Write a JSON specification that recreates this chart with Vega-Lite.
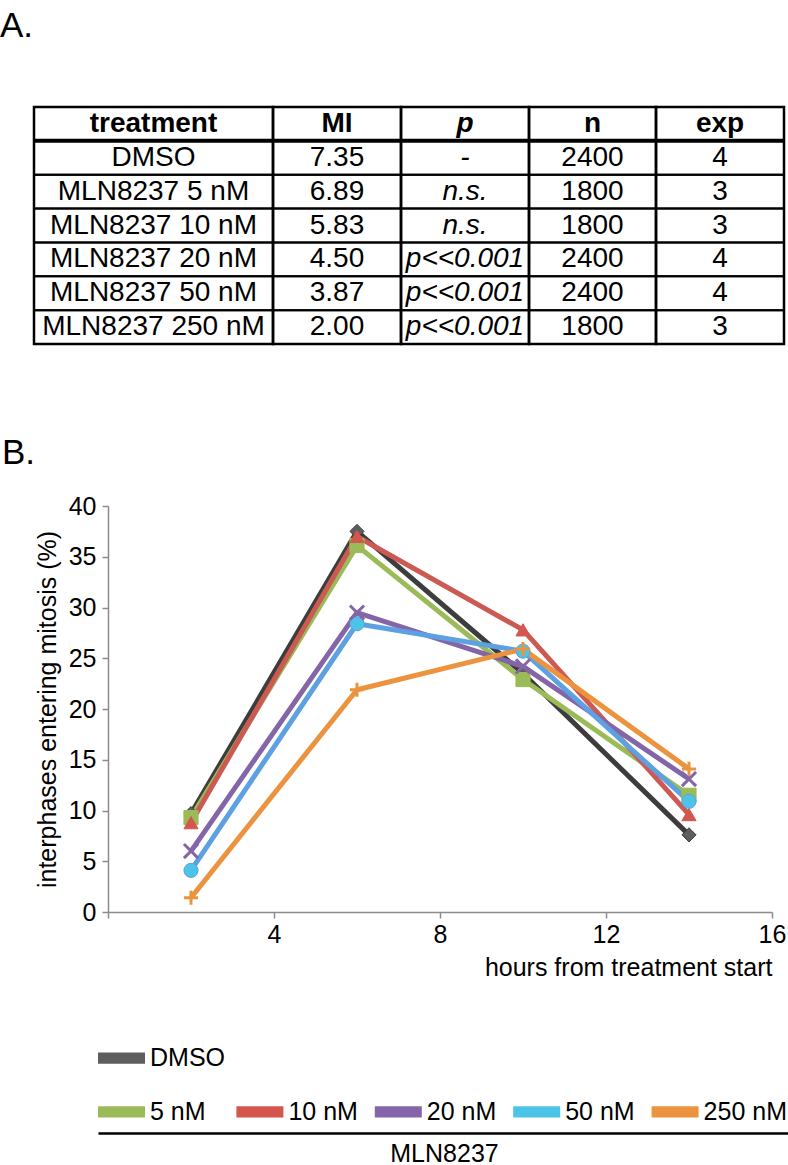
{
  "$schema": "https://vega.github.io/schema/vega-lite/v6.json",
  "padding": {"top": 8, "left": 0, "right": 0, "bottom": 0},
  "background": "white",
  "config": {
    "font": "Liberation Sans",
    "view": {"stroke": null},
    "axis": {"labelColor": "black", "titleColor": "black", "titleFontWeight": "normal", "grid": false},
    "title": {"fontWeight": "normal", "color": "black"}
  },
  "datasets": {
    "table": [
      {"treatment": "DMSO", "MI": "7.35", "p": "-", "n": "2400", "exp": "4"},
      {"treatment": "MLN8237 5 nM", "MI": "6.89", "p": "n.s.", "n": "1800", "exp": "3"},
      {"treatment": "MLN8237 10 nM", "MI": "5.83", "p": "n.s.", "n": "1800", "exp": "3"},
      {"treatment": "MLN8237 20 nM", "MI": "4.50", "p": "p<<0.001", "n": "2400", "exp": "4"},
      {"treatment": "MLN8237 50 nM", "MI": "3.87", "p": "p<<0.001", "n": "2400", "exp": "4"},
      {"treatment": "MLN8237 250 nM", "MI": "2.00", "p": "p<<0.001", "n": "1800", "exp": "3"}
    ],
    "header": [{"treatment": "treatment", "MI": "MI", "p": "p", "n": "n", "exp": "exp"}],
    "mitosis": [
      {"series": "DMSO", "hours": 2, "pct": 9.7},
      {"series": "DMSO", "hours": 6, "pct": 37.5},
      {"series": "DMSO", "hours": 10, "pct": 23.5},
      {"series": "DMSO", "hours": 14, "pct": 7.6},
      {"series": "5 nM", "hours": 2, "pct": 9.3},
      {"series": "5 nM", "hours": 6, "pct": 36.1},
      {"series": "5 nM", "hours": 10, "pct": 22.9},
      {"series": "5 nM", "hours": 14, "pct": 11.5},
      {"series": "10 nM", "hours": 2, "pct": 8.8},
      {"series": "10 nM", "hours": 6, "pct": 37.0},
      {"series": "10 nM", "hours": 10, "pct": 27.8},
      {"series": "10 nM", "hours": 14, "pct": 9.6},
      {"series": "20 nM", "hours": 2, "pct": 6.0},
      {"series": "20 nM", "hours": 6, "pct": 29.5},
      {"series": "20 nM", "hours": 10, "pct": 24.2},
      {"series": "20 nM", "hours": 14, "pct": 13.1},
      {"series": "50 nM", "hours": 2, "pct": 4.1},
      {"series": "50 nM", "hours": 6, "pct": 28.4},
      {"series": "50 nM", "hours": 10, "pct": 25.7},
      {"series": "50 nM", "hours": 14, "pct": 10.9},
      {"series": "250 nM", "hours": 2, "pct": 1.4},
      {"series": "250 nM", "hours": 6, "pct": 21.9},
      {"series": "250 nM", "hours": 10, "pct": 25.9},
      {"series": "250 nM", "hours": 14, "pct": 14.1}
    ],
    "legendItems": [
      {"series": "DMSO"},
      {"series": "5 nM"},
      {"series": "10 nM"},
      {"series": "20 nM"},
      {"series": "50 nM"},
      {"series": "250 nM"}
    ]
  },
  "spacing": 89,
  "vconcat": [
    {
      "title": {"text": "A.", "anchor": "start", "frame": "bounds", "fontSize": 35, "fontWeight": "normal", "dx": -30.75, "offset": 62},
      "spacing": 0,
      "bounds": "flush",
      "hconcat": [
        {
          "width": 239, "height": 237,
          "view": {"stroke": "black", "strokeWidth": 2.5},
          "layer": [
            {"data": {"name": "table"}, "mark": {"type": "rect", "filled": false, "stroke": "black", "strokeWidth": 2},
             "encoding": {
               "y": {"field": "treatment", "type": "nominal", "scale": {"type": "band", "domain": ["header", "DMSO", "MLN8237 5 nM", "MLN8237 10 nM", "MLN8237 20 nM", "MLN8237 50 nM", "MLN8237 250 nM"], "paddingInner": 0, "paddingOuter": 0}, "axis": null},
               "x": {"datum": 0, "type": "quantitative", "scale": {"domain": [0, 1]}, "axis": null},
               "x2": {"datum": 1}}},
            {"data": {"name": "header"}, "mark": {"type": "rule", "stroke": "black", "strokeWidth": 4},
             "encoding": {"y": {"datum": "DMSO", "type": "nominal", "bandPosition": 0}, "x": {"datum": 0, "type": "quantitative"}, "x2": {"datum": 1}}},
            {"data": {"name": "header"}, "mark": {"type": "text", "fontSize": 28, "fontWeight": "bold", "baseline": "middle"},
             "encoding": {"y": {"datum": "header", "type": "nominal"}, "x": {"datum": 0.5, "type": "quantitative"}, "text": {"field": "treatment"}}},
            {"data": {"name": "table"}, "mark": {"type": "text", "fontSize": 28, "baseline": "middle"},
             "encoding": {"y": {"field": "treatment", "type": "nominal"}, "x": {"datum": 0.5, "type": "quantitative"}, "text": {"field": "treatment"}}}
          ]
        },
        {
          "width": 128, "height": 237,
          "view": {"stroke": "black", "strokeWidth": 2.5},
          "layer": [
            {"data": {"name": "table"}, "mark": {"type": "rect", "filled": false, "stroke": "black", "strokeWidth": 2},
             "encoding": {
               "y": {"field": "treatment", "type": "nominal", "scale": {"type": "band", "domain": ["header", "DMSO", "MLN8237 5 nM", "MLN8237 10 nM", "MLN8237 20 nM", "MLN8237 50 nM", "MLN8237 250 nM"], "paddingInner": 0, "paddingOuter": 0}, "axis": null},
               "x": {"datum": 0, "type": "quantitative", "scale": {"domain": [0, 1]}, "axis": null},
               "x2": {"datum": 1}}},
            {"data": {"name": "header"}, "mark": {"type": "rule", "stroke": "black", "strokeWidth": 4},
             "encoding": {"y": {"datum": "DMSO", "type": "nominal", "bandPosition": 0}, "x": {"datum": 0, "type": "quantitative"}, "x2": {"datum": 1}}},
            {"data": {"name": "header"}, "mark": {"type": "text", "fontSize": 28, "fontWeight": "bold", "baseline": "middle"},
             "encoding": {"y": {"datum": "header", "type": "nominal"}, "x": {"datum": 0.5, "type": "quantitative"}, "text": {"field": "MI"}}},
            {"data": {"name": "table"}, "mark": {"type": "text", "fontSize": 28, "baseline": "middle"},
             "encoding": {"y": {"field": "treatment", "type": "nominal"}, "x": {"datum": 0.5, "type": "quantitative"}, "text": {"field": "MI"}}}
          ]
        },
        {
          "width": 128, "height": 237,
          "view": {"stroke": "black", "strokeWidth": 2.5},
          "layer": [
            {"data": {"name": "table"}, "mark": {"type": "rect", "filled": false, "stroke": "black", "strokeWidth": 2},
             "encoding": {
               "y": {"field": "treatment", "type": "nominal", "scale": {"type": "band", "domain": ["header", "DMSO", "MLN8237 5 nM", "MLN8237 10 nM", "MLN8237 20 nM", "MLN8237 50 nM", "MLN8237 250 nM"], "paddingInner": 0, "paddingOuter": 0}, "axis": null},
               "x": {"datum": 0, "type": "quantitative", "scale": {"domain": [0, 1]}, "axis": null},
               "x2": {"datum": 1}}},
            {"data": {"name": "header"}, "mark": {"type": "rule", "stroke": "black", "strokeWidth": 4},
             "encoding": {"y": {"datum": "DMSO", "type": "nominal", "bandPosition": 0}, "x": {"datum": 0, "type": "quantitative"}, "x2": {"datum": 1}}},
            {"data": {"name": "header"}, "mark": {"type": "text", "fontSize": 28, "fontWeight": "bold", "fontStyle": "italic", "baseline": "middle"},
             "encoding": {"y": {"datum": "header", "type": "nominal"}, "x": {"datum": 0.5, "type": "quantitative"}, "text": {"field": "p"}}},
            {"data": {"name": "table"}, "mark": {"type": "text", "fontSize": 28, "fontStyle": "italic", "baseline": "middle"},
             "encoding": {"y": {"field": "treatment", "type": "nominal"}, "x": {"datum": 0.5, "type": "quantitative"}, "text": {"field": "p"}}}
          ]
        },
        {
          "width": 127, "height": 237,
          "view": {"stroke": "black", "strokeWidth": 2.5},
          "layer": [
            {"data": {"name": "table"}, "mark": {"type": "rect", "filled": false, "stroke": "black", "strokeWidth": 2},
             "encoding": {
               "y": {"field": "treatment", "type": "nominal", "scale": {"type": "band", "domain": ["header", "DMSO", "MLN8237 5 nM", "MLN8237 10 nM", "MLN8237 20 nM", "MLN8237 50 nM", "MLN8237 250 nM"], "paddingInner": 0, "paddingOuter": 0}, "axis": null},
               "x": {"datum": 0, "type": "quantitative", "scale": {"domain": [0, 1]}, "axis": null},
               "x2": {"datum": 1}}},
            {"data": {"name": "header"}, "mark": {"type": "rule", "stroke": "black", "strokeWidth": 4},
             "encoding": {"y": {"datum": "DMSO", "type": "nominal", "bandPosition": 0}, "x": {"datum": 0, "type": "quantitative"}, "x2": {"datum": 1}}},
            {"data": {"name": "header"}, "mark": {"type": "text", "fontSize": 28, "fontWeight": "bold", "baseline": "middle"},
             "encoding": {"y": {"datum": "header", "type": "nominal"}, "x": {"datum": 0.5, "type": "quantitative"}, "text": {"field": "n"}}},
            {"data": {"name": "table"}, "mark": {"type": "text", "fontSize": 28, "baseline": "middle"},
             "encoding": {"y": {"field": "treatment", "type": "nominal"}, "x": {"datum": 0.5, "type": "quantitative"}, "text": {"field": "n"}}}
          ]
        },
        {
          "width": 128, "height": 237,
          "view": {"stroke": "black", "strokeWidth": 2.5},
          "layer": [
            {"data": {"name": "table"}, "mark": {"type": "rect", "filled": false, "stroke": "black", "strokeWidth": 2},
             "encoding": {
               "y": {"field": "treatment", "type": "nominal", "scale": {"type": "band", "domain": ["header", "DMSO", "MLN8237 5 nM", "MLN8237 10 nM", "MLN8237 20 nM", "MLN8237 50 nM", "MLN8237 250 nM"], "paddingInner": 0, "paddingOuter": 0}, "axis": null},
               "x": {"datum": 0, "type": "quantitative", "scale": {"domain": [0, 1]}, "axis": null},
               "x2": {"datum": 1}}},
            {"data": {"name": "header"}, "mark": {"type": "rule", "stroke": "black", "strokeWidth": 4},
             "encoding": {"y": {"datum": "DMSO", "type": "nominal", "bandPosition": 0}, "x": {"datum": 0, "type": "quantitative"}, "x2": {"datum": 1}}},
            {"data": {"name": "header"}, "mark": {"type": "text", "fontSize": 28, "fontWeight": "bold", "baseline": "middle"},
             "encoding": {"y": {"datum": "header", "type": "nominal"}, "x": {"datum": 0.5, "type": "quantitative"}, "text": {"field": "exp"}}},
            {"data": {"name": "table"}, "mark": {"type": "text", "fontSize": 28, "baseline": "middle"},
             "encoding": {"y": {"field": "treatment", "type": "nominal"}, "x": {"datum": 0.5, "type": "quantitative"}, "text": {"field": "exp"}}}
          ]
        }
      ]
    },
    {
      "spacing": 56,
      "vconcat": [
        {
          "title": {"text": "B.", "anchor": "start", "frame": "bounds", "fontSize": 35, "fontWeight": "normal", "dx": -32, "offset": 23},
          "spacing": 0,
          "hconcat": [
            {
              "width": 1, "height": 10,
              "data": {"values": [{"s": 0}]},
              "mark": {"type": "text", "text": ""},
              "encoding": {}
            },
            {
              "width": 664, "height": 406,
              "data": {"name": "mitosis"},
              "encoding": {
                "x": {"field": "hours", "type": "quantitative", "scale": {"domain": [0, 16], "nice": false, "zero": false},
                      "axis": {"values": [0, 4, 8, 12, 16], "labelExpr": "datum.value == 0 ? '' : datum.label", "title": "hours from treatment start", "titleAnchor": "end", "labelFlush": false, "labelFontSize": 25, "titleFontSize": 25, "tickSize": 6, "labelPadding": 4, "titlePadding": 8, "domainColor": "#8c8c8c", "tickColor": "#8c8c8c", "domainWidth": 1.5, "tickWidth": 1.5}},
                "y": {"field": "pct", "type": "quantitative", "scale": {"domain": [0, 40], "nice": false},
                      "axis": {"values": [0, 5, 10, 15, 20, 25, 30, 35, 40], "title": "interphases entering mitosis (%)", "labelFontSize": 25, "titleFontSize": 25, "tickSize": 6, "labelPadding": 6, "titlePadding": 8, "domainColor": "#8c8c8c", "tickColor": "#8c8c8c", "domainWidth": 1.5, "tickWidth": 1.5}}
              },
              "layer": [
                {"mark": {"type": "line", "strokeWidth": 5, "strokeJoin": "round"},
                 "encoding": {"stroke": {"field": "series", "type": "nominal", "scale": {"domain": ["DMSO", "5 nM", "10 nM", "20 nM", "50 nM", "250 nM"], "range": ["#3D3D3D", "#9BBB59", "#CC5A52", "#8466A8", "#5DA1E2", "#EB933F"]}, "legend": null}}},
                {"transform": [{"filter": "datum.series != '20 nM' && datum.series != '250 nM'"}],
                 "mark": {"type": "point", "filled": true, "size": 200, "opacity": 1, "strokeWidth": 1},
                 "encoding": {
                   "shape": {"field": "series", "type": "nominal", "scale": {"domain": ["DMSO", "5 nM", "10 nM", "20 nM", "50 nM", "250 nM"], "range": ["diamond", "square", "triangle-up", "M-1,-1L1,1M1,-1L-1,1", "circle", "M-1,0L1,0M0,-1L0,1"]}, "legend": null},
                   "fill": {"field": "series", "type": "nominal", "scale": {"domain": ["DMSO", "5 nM", "10 nM", "20 nM", "50 nM", "250 nM"], "range": ["#5E5E5E", "#9BBB59", "#D4564D", "#8466A8", "#4CC4E8", "#EB933F"]}, "legend": null},
                   "stroke": {"field": "series", "type": "nominal", "legend": null}}},
                {"transform": [{"filter": "datum.series == '20 nM' || datum.series == '250 nM'"}],
                 "mark": {"type": "point", "filled": false, "size": 200, "opacity": 1, "strokeWidth": 3},
                 "encoding": {
                   "shape": {"field": "series", "type": "nominal", "legend": null},
                   "stroke": {"field": "series", "type": "nominal", "legend": null}}}
              ]
            }
          ]
        },
        {
          "spacing": 0,
          "hconcat": [
            {
              "width": 64, "height": 10,
              "data": {"values": [{"s": 0}]},
              "mark": {"type": "text", "text": ""},
              "encoding": {}
            },
            {
              "width": 692, "height": 96,
              "data": {"name": "legendItems"},
              "layer": [
                {"transform": [{"filter": "datum.series == 'DMSO'"}],
                 "mark": {"type": "point", "shape": "M0,-0.24H2V0.24H0Z", "size": 2209, "filled": true, "opacity": 1, "strokeWidth": 0},
                 "encoding": {
                   "x": {"datum": "5 nM", "type": "nominal", "bandPosition": 0, "scale": {"type": "band", "domain": ["5 nM", "10 nM", "20 nM", "50 nM", "250 nM"], "paddingInner": 0, "paddingOuter": 0},
                         "axis": {"labels": false, "ticks": false, "domain": true, "domainColor": "black", "domainWidth": 2.5, "title": "MLN8237", "titleFontSize": 25, "titlePadding": 8, "grid": false}},
                   "y": {"datum": "DMSO", "type": "nominal", "scale": {"type": "point", "domain": ["DMSO", "MLN8237"], "padding": 0.39}, "axis": null},
                   "fill": {"field": "series", "type": "nominal", "scale": {"domain": ["DMSO", "5 nM", "10 nM", "20 nM", "50 nM", "250 nM"], "range": ["#6B6B6B", "#A9C66E", "#CF6B63", "#9A82BC", "#6BA5E0", "#F8A75A"]}, "legend": null}}},
                {"transform": [{"filter": "datum.series == 'DMSO'"}],
                 "mark": {"type": "text", "align": "left", "baseline": "middle", "dx": 52, "fontSize": 25},
                 "encoding": {
                   "x": {"datum": "5 nM", "type": "nominal", "bandPosition": 0},
                   "y": {"datum": "DMSO", "type": "nominal"},
                   "text": {"field": "series"}}},
                {"transform": [{"filter": "datum.series != 'DMSO'"}],
                 "mark": {"type": "point", "shape": "M0,-0.24H2V0.24H0Z", "size": 2209, "filled": true, "opacity": 1, "strokeWidth": 0},
                 "encoding": {
                   "x": {"field": "series", "type": "nominal", "bandPosition": 0},
                   "y": {"datum": "MLN8237", "type": "nominal"},
                   "fill": {"field": "series", "type": "nominal", "legend": null}}},
                {"transform": [{"filter": "datum.series != 'DMSO'"}],
                 "mark": {"type": "text", "align": "left", "baseline": "middle", "dx": 52, "fontSize": 25},
                 "encoding": {
                   "x": {"field": "series", "type": "nominal", "bandPosition": 0},
                   "y": {"datum": "MLN8237", "type": "nominal"},
                   "text": {"field": "series"}}}
              ]
            }
          ]
        }
      ]
    }
  ]
}
